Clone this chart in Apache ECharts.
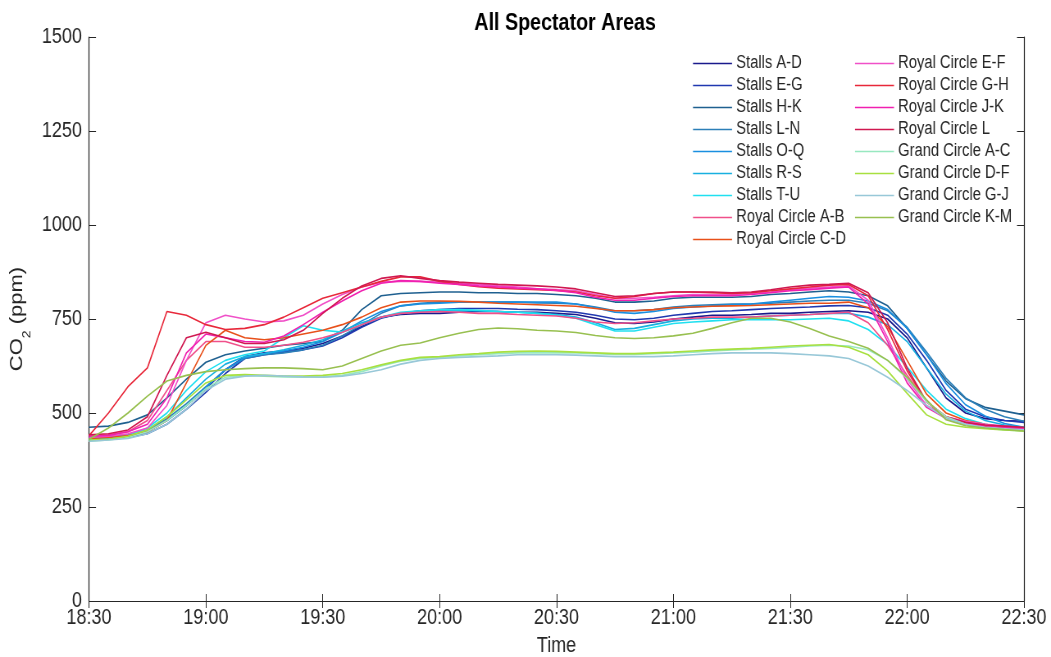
<!DOCTYPE html>
<html>
<head>
<meta charset="utf-8">
<script src="https://cdn.jsdelivr.net/npm/echarts@6/dist/echarts.min.js"></script>
<style>
html,body{margin:0;padding:0;background:#fff;overflow:hidden}
#wrap{width:1051px;height:657px;overflow:hidden}
#c{width:1282px;height:657px;transform:scaleX(0.819813);transform-origin:0 0}
</style>
</head>
<body>
<div id="wrap"><div id="c"></div></div>
<script>
// time in minutes since midnight, 5-minute steps 18:30..22:30
const times = [1110,1115,1120,1125,1130,1135,1140,1145,1150,1155,1160,1165,1170,1175,1180,1185,1190,1195,1200,1205,1210,1215,1220,1225,1230,1235,1240,1245,1250,1255,1260,1265,1270,1275,1280,1285,1290,1295,1300,1305,1310,1315,1320,1325,1330,1335,1340,1345,1350];
const xTickLabels = ["18:30","19:00","19:30","20:00","20:30","21:00","21:30","22:00","22:30"];
const yTicks = [0,250,500,750,1000,1250,1500];

const seriesNames = ["Stalls A-D","Stalls E-G","Stalls H-K","Stalls L-N","Stalls O-Q","Stalls R-S","Stalls T-U","Royal Circle A-B","Royal Circle C-D","Royal Circle E-F","Royal Circle G-H","Royal Circle J-K","Royal Circle L","Grand Circle A-C","Grand Circle D-F","Grand Circle G-J","Grand Circle K-M"];

const stallsAD = [430,432,438,450,480,520,565,615,650, 660,665,672,685,705,730,755,762,765, 765,768,770,770,768,768,765,762,752, 740,738,742,750,755,760,760,762,765, 765,768,770,772,768,750,700,620,540, 500,485,480,478];
const stallsEG = [428,430,435,445,470,510,555,605,645, 655,662,668,678,700,728,752,765,772, 775,778,778,778,776,775,772,768,760, 750,748,752,760,765,770,772,775,778, 780,782,785,786,780,760,710,640,560, 510,490,480,475];
const stallsHK = [462,465,475,495,540,590,635,655,665, 672,680,685,690,720,775,812,818,820, 822,822,820,820,818,818,815,812,805, 795,795,798,805,808,808,808,810,815, 818,822,825,822,812,785,725,655,585, 538,515,505,495];
const stallsLN = [435,437,442,455,485,525,570,615,645, 655,660,668,680,705,735,765,785,792, 795,796,795,795,795,793,792,790,782, 772,772,775,782,786,788,790,790,792, 795,798,800,800,792,772,728,662,592, 540,510,490,478];
const stallsOQ = [432,434,440,452,480,520,568,615,648, 658,665,675,690,715,745,770,785,790, 792,795,795,795,795,795,795,790,780, 768,765,770,778,782,785,788,790,795, 800,805,810,808,798,775,725,655,578, 522,492,472,462];
const stallsRS = [430,432,440,455,490,540,590,630,650, 658,668,680,695,718,740,755,765,770, 772,773,772,770,768,765,762,755,740, 722,725,735,745,750,752,752,755,758, 760,762,765,765,755,735,690,620,550, 505,480,468,462];
const stallsTU = [428,432,440,460,500,560,610,640,655, 665,700,732,720,715,735,755,768,772, 775,775,773,770,768,765,760,752,735, 718,718,728,738,742,745,748,748,748, 748,750,752,745,722,682,622,560,510, 485,470,462,458];
const royalAB = [440,442,450,480,560,640,690,690,675, 675,680,688,700,715,735,755,765,768, 770,768,765,765,762,760,758,752,742, 738,740,745,750,752,755,755,755,758, 760,762,765,768,740,680,600,530,490, 475,468,462,458];
const royalCD = [432,435,440,450,480,580,680,720,700, 695,700,710,720,735,755,780,795,798, 798,797,795,792,790,788,786,784,778, 772,772,775,780,782,784,785,786,788, 790,792,792,795,780,730,640,550,500, 480,470,462,458];
const royalEF = [435,438,445,460,520,640,740,760,750, 742,745,760,790,815,835,848,850,850, 848,845,842,838,835,830,828,825,815, 805,805,808,812,815,815,815,818,822, 828,832,835,838,800,700,590,520,490, 478,470,465,460];
const royalGH = [440,500,570,620,770,760,735,722,725, 735,755,780,805,820,835,850,862,862, 850,842,836,832,830,828,826,822,812, 805,810,818,822,822,820,818,820,825, 830,835,840,842,812,722,612,530,485, 470,465,462,460];
const royalJK = [438,440,450,470,540,660,710,700,690, 688,705,735,768,798,825,845,852,850, 845,842,838,835,832,830,826,820,808, 800,800,805,810,812,812,812,815,820, 825,828,832,835,790,690,580,515,485, 472,466,462,458];
const royalL = [442,445,455,490,600,700,715,700,685, 685,695,720,765,805,838,858,865,858, 852,848,845,842,840,838,835,830,820, 810,812,818,822,822,822,820,822,828, 835,840,842,845,820,740,620,530,490, 475,468,465,462];
const grandAC = [425,428,435,450,480,520,565,595,600, 598,596,595,596,600,610,625,638,645, 648,652,655,658,660,660,660,660,658, 656,656,658,660,662,665,668,670,672, 675,678,680,678,668,640,592,530,490, 470,460,455,452];
const grandDF = [428,430,438,455,490,535,580,600,602, 600,598,598,600,605,615,628,640,648, 650,655,658,662,664,665,664,662,660, 658,658,660,662,665,668,670,672,675, 678,680,682,675,655,612,552,495,470, 462,458,455,452];
const grandGJ = [425,428,432,445,470,510,560,590,598, 600,598,596,595,598,605,615,630,640, 645,648,650,652,655,655,655,654,652, 650,650,650,652,655,658,660,660,660, 658,655,652,645,625,595,560,520,485, 470,462,458,455];
const grandKM = [430,460,500,545,585,600,610,615,618, 620,620,618,615,625,645,665,680,686, 700,712,722,726,724,720,718,714,706, 700,698,700,705,712,725,740,752,752, 742,725,705,690,672,640,595,535,482, 466,460,456,452];

const seriesValues = [stallsAD,stallsEG,stallsHK,stallsLN,stallsOQ,stallsRS,stallsTU,royalAB,royalCD,royalEF,royalGH,royalJK,royalL,grandAC,grandDF,grandGJ,grandKM];
const colors = ["#1a1a8c","#2038b0","#1f6090","#2c7fb8","#1a8fe0","#18b0e0","#20e0f0","#f0508a","#e8501a","#f050c8","#e8283a","#f020b0","#d01850","#98e8c0","#a8e040","#98c8d8","#98c050"];

// page is drawn 1282 wide and squeezed horizontally to 1051 (narrow-font look)
const S = 1051 / 1282;
const W = x => x / S;

const fmt = v => { const h = Math.floor(v/60), m = v%60; return h + ':' + (m<10?'0':'') + m; };
const axisColor = '#262626';
const font = '"Liberation Sans", Arial, sans-serif';

const series = seriesNames.map((n,i) => ({
  name: n, type: 'line', symbol: 'none', showSymbol: false, smooth: false,
  lineStyle: {width: 1.6, color: colors[i]}, itemStyle: {color: colors[i]},
  data: times.map((t,k) => [t, seriesValues[i][k]])
}));

const legendCommon = {orient: 'vertical', top: 53, padding: 0, icon: 'rect', itemWidth: W(39), itemHeight: 1.6, itemGap: 1,
  textStyle: {fontFamily: font, fontSize: 18, color: '#262626', lineHeight: 21}};

const chart = echarts.init(document.getElementById('c'));
chart.setOption({
  animation: false,
  backgroundColor: '#fff',
  title: {text: 'All Spectator Areas', left: W(561), textAlign: 'center', top: 6,
    textStyle: {fontFamily: font, fontSize: 24, fontWeight: 'bold', color: '#000'}},
  grid: {left: W(89), right: W(27), top: 37, bottom: 56, containLabel: false, outerBoundsMode: 'none'},
  legend: [
    Object.assign({data: seriesNames.slice(0,9), left: W(693)}, legendCommon),
    Object.assign({data: seriesNames.slice(9), left: W(855)}, legendCommon)
  ],
  xAxis: [
    {type: 'value', min: 1110, max: 1350, interval: 30, name: 'Time', nameLocation: 'middle', nameGap: 34,
      nameTextStyle: {fontFamily: font, fontSize: 22, color: '#262626'},
      axisLine: {lineStyle: {color: axisColor, width: 1}},
      axisTick: {inside: true, length: 7, lineStyle: {color: axisColor}},
      axisLabel: {formatter: v => fmt(v), fontFamily: font, fontSize: 22, color: '#262626', margin: 6},
      splitLine: {show: false}},
    {type: 'value', position: 'top', min: 1110, max: 1350, interval: 30,
      axisLine: {show: true, lineStyle: {color: axisColor, width: 1}},
      axisTick: {inside: true, length: 7, lineStyle: {color: axisColor}},
      axisLabel: {show: false}, splitLine: {show: false}}
  ],
  yAxis: [
    {type: 'value', min: 0, max: 1500, interval: 250,
      name: '{a|CO}{b|2}{a| (ppm)}', nameLocation: 'middle', nameGap: W(59), nameRotate: 90,
      nameTextStyle: {rich: {a: {fontFamily: font, fontSize: 22, color: '#262626'}, b: {fontFamily: font, fontSize: 14, color: '#262626', verticalAlign: 'bottom', padding: [0,0,-8,0]}}},
      axisLine: {show: true, lineStyle: {color: axisColor, width: 1.2}},
      axisTick: {inside: true, length: W(7), lineStyle: {color: axisColor, width: 1}},
      axisLabel: {formatter: v => String(v), fontFamily: font, fontSize: 22, color: '#262626', margin: W(7)},
      splitLine: {show: false}},
    {type: 'value', position: 'right', min: 0, max: 1500, interval: 250,
      axisLine: {show: true, lineStyle: {color: axisColor, width: 1.2}},
      axisTick: {inside: true, length: W(7), lineStyle: {color: axisColor}},
      axisLabel: {show: false}, splitLine: {show: false}}
  ],
  series: series
});
</script>
</body>
</html>
